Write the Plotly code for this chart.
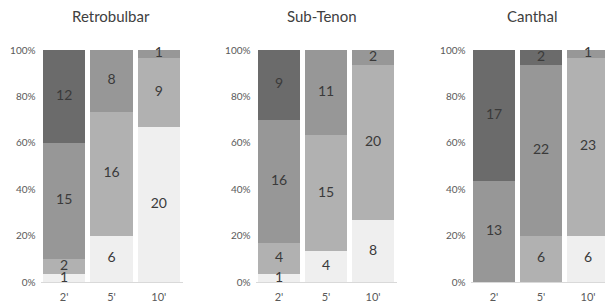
import plotly.graph_objects as go

panels = ["Retrobulbar", "Sub-Tenon", "Canthal"]
times = ["2'", "5'", "10'"]
levels = ["L0", "L1", "L2", "L3"]
colors = ["#efefef", "#b1b1b1", "#979797", "#6b6b6b"]
ytick_vals = [0, 20, 40, 60, 80, 100]
ytick_text = ["0%", "20%", "40%", "60%", "80%", "100%"]

# counts per panel, per level, per time
retro = {"L0": [1, 6, 20], "L1": [2, 16, 9], "L2": [15, 8, 1], "L3": [12, 0, 0]}
subtenon = {"L0": [1, 4, 8], "L1": [4, 15, 20], "L2": [16, 11, 2], "L3": [9, 0, 0]}
canthal = {"L0": [0, 0, 6], "L1": [0, 6, 23], "L2": [13, 22, 1], "L3": [17, 2, 0]}
data = [retro, subtenon, canthal]

W, H = 605, 305
# x-domains in pixels
xdom_px = [(40.5, 182.5), (255.5, 396.5), (470.5, 605)]
ranges = [[-0.5, 2.5], [-0.5, 2.5], [-0.5, 2.5 - (611.5 - 605) / 47]]
ydom = [23 / H, 255 / H]
title_x = [111, 322, 532]

fig = go.Figure()
for i, d in enumerate(data):
    xa = "x" if i == 0 else f"x{i+1}"
    ya = "y" if i == 0 else f"y{i+1}"
    totals = [sum(d[lv][k] for lv in levels) for k in range(len(times))]
    cum = [0] * len(times)
    lx, ly, lt = [], [], []
    for lv, col in zip(levels, colors):
        vals = d[lv]
        fig.add_trace(go.Bar(
            x=times, y=vals, name=lv, marker=dict(color=col, line=dict(width=0)),
            textposition="none",
            xaxis=xa, yaxis=ya, showlegend=False, hoverinfo="skip",
        ))
        for k, v in enumerate(vals):
            if v:
                lx.append(times[k])
                ly.append(100 * (cum[k] + v / 2) / totals[k])
                lt.append(str(v))
            cum[k] += v
    fig.add_trace(go.Scatter(
        x=lx, y=ly, text=lt, mode="text", textposition="middle center",
        textfont=dict(color="#3a3a3a", size=14, family="Lato"),
        cliponaxis=False, xaxis=xa, yaxis=ya, showlegend=False, hoverinfo="skip",
    ))

layout = dict(
    width=W, height=H, margin=dict(l=0, r=0, t=0, b=0, autoexpand=False),
    barmode="stack", barnorm="percent", bargap=5 / 47,
    paper_bgcolor="white", plot_bgcolor="white",
    font=dict(family="Lato", color="#595959"),
    annotations=[],
)
for i in range(3):
    sx = "" if i == 0 else str(i + 1)
    layout[f"xaxis{sx}"] = dict(
        domain=[xdom_px[i][0] / W, xdom_px[i][1] / W], range=ranges[i],
        anchor=f"y{sx}", showline=True, linecolor="#d9d9d9", linewidth=1,
        ticks="", showgrid=False, tickfont=dict(size=11, color="#595959"),
        ticklabelstandoff=5, automargin=False, fixedrange=True,
    )
    layout[f"yaxis{sx}"] = dict(
        domain=ydom, range=[0, 100], anchor=f"x{sx}",
        tickmode="array", tickvals=ytick_vals, ticktext=ytick_text,
        showgrid=False, zeroline=False, showline=False, ticks="",
        tickfont=dict(size=10, color="#595959"), ticklabelstandoff=4,
        automargin=False, fixedrange=True,
    )
    layout["annotations"].append(dict(
        text=panels[i], x=title_x[i] / W, y=1 - 16 / H, xref="paper", yref="paper",
        xanchor="center", yanchor="middle", showarrow=False,
        font=dict(size=15, color="#404040", family="Lato"),
    ))

fig.update_layout(**layout)
fig.write_html("out.html", config={"displayModeBar": False},
               post_script="document.body.style.margin='0';")
